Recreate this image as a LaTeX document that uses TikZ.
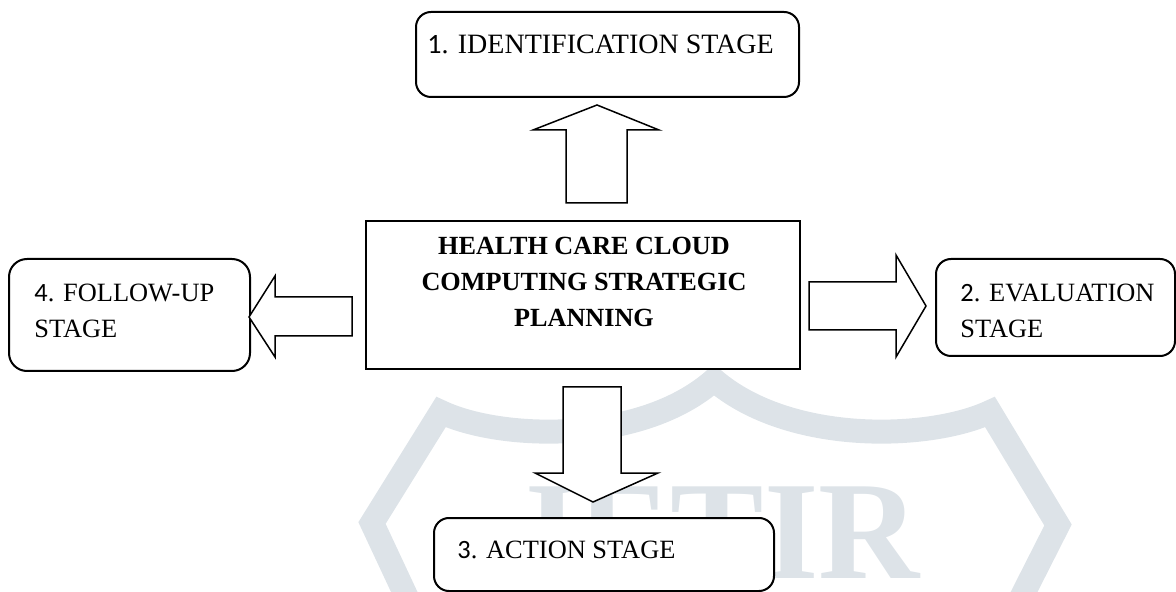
\documentclass[tikz,border=0pt]{standalone}
\usepackage{fontspec}
\setmainfont{Liberation Serif}
\newfontfamily\digfont{Carlito}
\definecolor{wm}{RGB}{221,227,232}
\begin{document}
\begin{tikzpicture}[x=0.5pt,y=-0.5pt,
  stagebox/.style={draw, line width=1pt, rounded corners=7.5pt, fill=white, inner sep=0pt, anchor=north west},
  hubbox/.style={draw, line width=1pt, fill=white, inner sep=0pt, anchor=north west},
  blockarrow/.style={draw, line width=0.75pt, fill=white, line join=miter},
  stagetext/.style={inner sep=0pt, align=left, font=\fontsize{13.2}{18}\selectfont},
  hubtext/.style={inner sep=0pt, align=center, font=\fontsize{13.1}{18}\selectfont\bfseries},
  wmband/.style={draw=wm, line width=12pt, line join=miter},
  wmtext/.style={inner sep=0pt, text=wm, font=\fontsize{70}{70}\selectfont\bfseries}]
\useasboundingbox (0,0) rectangle (1176,592);
% watermark
\begin{scope}
\clip (0,0) rectangle (1176,592);
\draw[wmband] (408,600) -- (372,523) -- (441,412)
  .. controls (500,440) and (640,445) .. (714,380)
  .. controls (790,445) and (930,440) .. (990,412)
  -- (1058,525) -- (1020,600);
\node[wmtext, anchor=base west] (wmark) at (507,578) {JETIR};
\end{scope}
% boxes
\node[hubbox, minimum width=217pt, minimum height=74pt] (hub) at (365,220) {};
\node[stagebox, minimum width=191.5pt, minimum height=42.5pt] (ident) at (415,11) {};
\node[stagebox, rounded corners=9pt, minimum width=120.5pt, minimum height=56pt] (follow) at (8,258) {};
\node[stagebox, minimum width=119.5pt, minimum height=48.5pt] (evalu) at (935,258) {};
\node[stagebox, minimum width=170pt, minimum height=36.5pt] (action) at (433,517) {};
% block arrows
\draw[blockarrow] (566,203) -- (566,130) -- (533,130) -- (597,105) -- (659,130) -- (627,130) -- (627,203) -- cycle;
\draw[blockarrow] (809,282) -- (896,282) -- (896,255) -- (926,306) -- (896,357) -- (896,330) -- (809,330) -- cycle;
\draw[blockarrow] (563,387) -- (621,387) -- (621,473) -- (658,473) -- (593,502) -- (535,473) -- (563,473) -- cycle;
\draw[blockarrow] (352,297) -- (275,297) -- (275,276) -- (249,317) -- (275,357) -- (275,336) -- (352,336) -- cycle;
% texts
\node[hubtext] (hubT) at (584,282) {HEALTH CARE CLOUD\\COMPUTING STRATEGIC\\PLANNING};
\node[stagetext, font=\fontsize{14}{18}\selectfont, anchor=base west] (identT) at (427,54) {{\digfont 1}. IDENTIFICATION STAGE};
\node[stagetext, anchor=west] (followT) at (34,311.25) {{\digfont 4}. FOLLOW-UP\\STAGE};
\node[stagetext, anchor=west] (evaluT) at (960,311.25) {{\digfont 2}. EVALUATION\\STAGE};
\node[stagetext, anchor=base west] (actionT) at (457,558) {{\digfont 3}. ACTION STAGE};
\end{tikzpicture}
\end{document}
